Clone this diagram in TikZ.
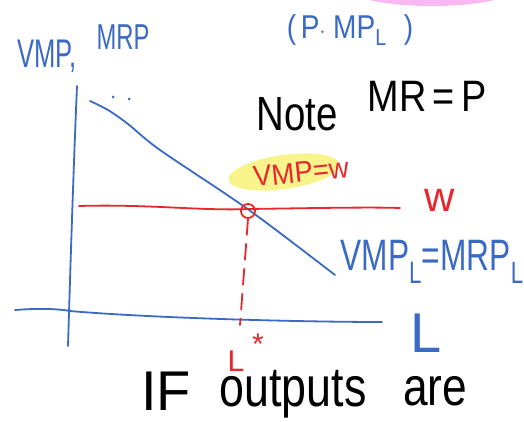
\documentclass[tikz,border=0pt]{standalone}
\usepackage{fontspec}
\setmainfont{Liberation Sans}
\usepackage{graphicx}
\definecolor{penblue}{RGB}{58,106,196}
\definecolor{penred}{RGB}{232,38,45}
\definecolor{hlyellow}{RGB}{246,240,110}
\definecolor{hlpink}{RGB}{245,160,240}
\tikzset{
  pen/.style={line width=1.8pt, line cap=round, line join=round},
  txt/.style={inner sep=0pt, outer sep=0pt},
}
\newcommand{\fs}[1]{\fontsize{#1}{#1}\selectfont}
\begin{document}
\begin{tikzpicture}[x=1pt,y=-1pt]
\useasboundingbox (0,0) rectangle (524,422);
% highlights
\fill[hlpink, opacity=0.75] (432,-12) ellipse [x radius=84, y radius=18];
\fill[hlyellow, opacity=0.8, rotate around={8:(284,172)}] (284,172) ellipse [x radius=56, y radius=17];
% axes
\draw[pen, penblue] (77,86) .. controls (73,180) and (70,280) .. (68,346);
\draw[pen, penblue] (15,310) .. controls (40,308) and (60,309) .. (70,311) .. controls (150,318) and (300,322) .. (382,322);
% demand curve
\draw[pen, penblue] plot[smooth, tension=0.5] coordinates {(90,101) (108,110) (128,124) (160,150) (249,210) (335,275)};
\fill[penblue] (113,97) circle (1.5);
\fill[penblue] (129,99) circle (1.5);
% red wage line
\draw[pen, penred] (79,206) .. controls (150,204) and (200,211) .. (249,209) .. controls (320,208) and (370,207) .. (400,208);
\node[draw=penred, circle, pen, minimum size=14pt, inner sep=0pt] (eq) at (248,211) {};
\coordinate (lstar) at (240,325);
\draw[pen, penred, dash pattern=on 16pt off 9pt] (eq.south) -- (lstar);
% texts
\node[txt, penblue] (yl1) at (47,56) {\fs{40}\scalebox{0.64}[1]{VMP,}};
\node[txt, penblue] (yl2) at (123,37) {\fs{36}\scalebox{0.66}[1]{MRP}};
\node[txt, penblue] (pmp) at (350,30) {\fs{33}\scalebox{0.85}[1]{(\,P$\cdot$ MP\textsubscript{L}\,\, )}};
\node[txt] (note) at (297,114) {\fs{48}\scalebox{0.8}[1]{Note}};
\node[txt] (mrp) at (427,96) {\fs{44}\scalebox{0.86}[1]{MR\,=\,P}};
\node[txt, penred, rotate=6] (vmpw) at (301,172) {\fs{29}\scalebox{0.95}[1]{VMP=w}};
\node[txt, penred] (w) at (440,200) {\fs{42}w};
\node[txt, penblue] (vmpl) at (432,262) {\fs{44}\scalebox{0.72}[1]{VMP\textsubscript{L}=MRP\textsubscript{L}}};
\node[txt, penblue] (L) at (426,333) {\fs{56}L};
\node[txt, penred] (Ls) at (236,361) {\fs{30}L};
\node[txt, penred] (star) at (258,344) {\fs{30}*};
\node[txt] (if) at (166,391) {\fs{56}IF};
\node[txt] (outp) at (293,394) {\fs{56}\scalebox{0.8}[1]{outputs}};
\node[txt] (are) at (435,391) {\fs{54}\scalebox{0.82}[1]{are}};
\end{tikzpicture}
\end{document}
